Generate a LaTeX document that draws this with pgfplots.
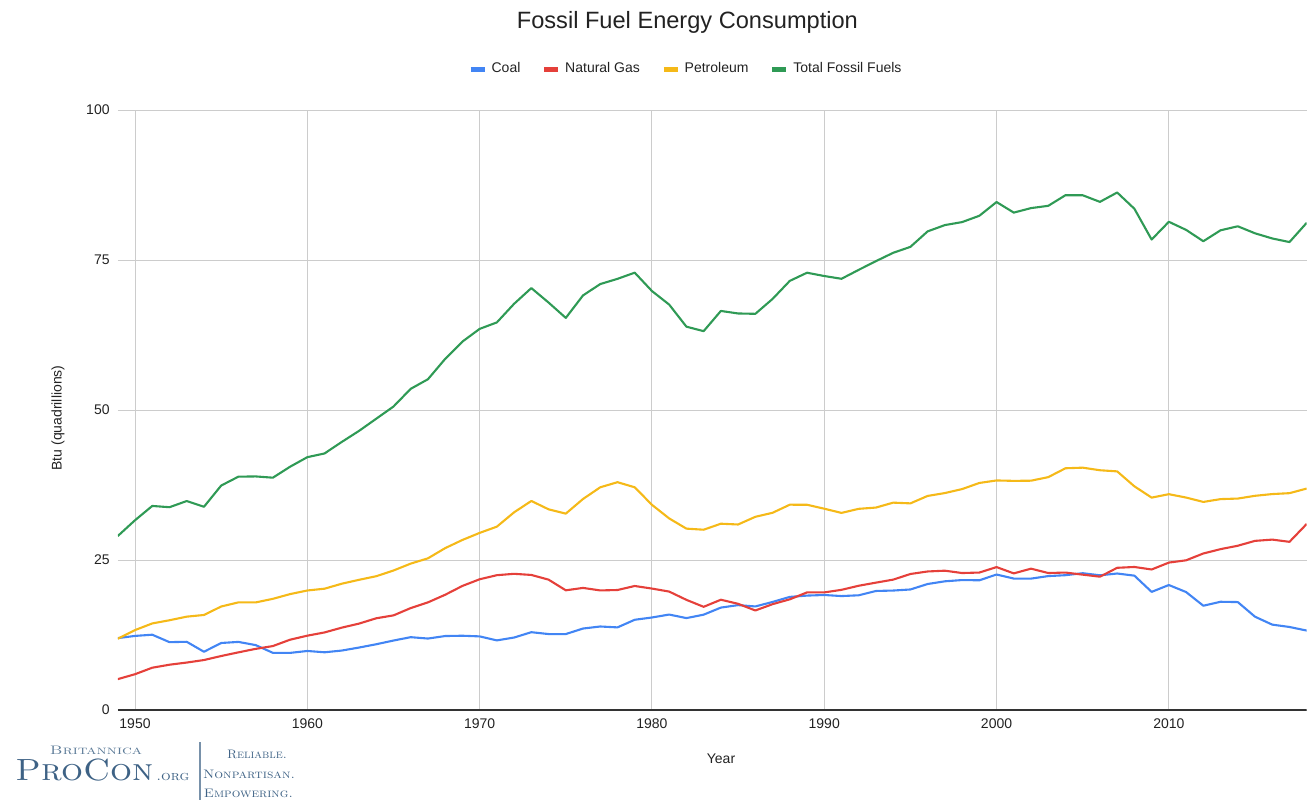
\documentclass[border=0pt]{standalone}
\usepackage{fontspec}
\usepackage{graphicx}
\usepackage{pgfplots}
\usepackage{pgfplotstable}
\pgfplotsset{compat=1.18}
\newfontfamily\arial{Liberation Sans}
\definecolor{cCoal}{HTML}{4285F4}
\definecolor{cGas}{HTML}{E5403A}
\definecolor{cPet}{HTML}{F5B918}
\definecolor{cTot}{HTML}{2F9A55}
\definecolor{logo}{HTML}{3E6285}
\definecolor{gridc}{HTML}{CCCCCC}
\definecolor{txt}{HTML}{222222}

\pgfplotstableread{
year coal gas pet tot
1949 11.98 5.15 11.88 29.00
1950 12.35 5.97 13.32 31.63
1951 12.55 7.05 14.43 34.01
1952 11.31 7.55 14.96 33.80
1953 11.37 7.91 15.56 34.83
1954 9.71 8.33 15.84 33.87
1955 11.17 9.00 17.25 37.41
1956 11.35 9.61 17.94 38.89
1957 10.82 10.19 17.93 38.93
1958 9.53 10.66 18.53 38.72
1959 9.52 11.72 19.32 40.55
1960 9.84 12.39 19.92 42.14
1961 9.62 12.93 20.22 42.76
1962 9.91 13.73 21.05 44.68
1963 10.41 14.40 21.70 46.52
1964 10.96 15.29 22.30 48.55
1965 11.58 15.77 23.25 50.58
1966 12.14 16.99 24.40 53.53
1967 11.91 17.94 25.28 55.13
1968 12.33 19.21 26.98 58.52
1969 12.38 20.68 28.34 61.40
1970 12.27 21.79 29.52 63.52
1971 11.60 22.47 30.56 64.60
1972 12.08 22.70 32.95 67.70
1973 12.97 22.51 34.84 70.32
1974 12.66 21.73 33.45 67.91
1975 12.66 19.95 32.73 65.35
1976 13.58 20.35 35.17 69.10
1977 13.92 19.93 37.12 70.99
1978 13.77 20.00 37.97 71.86
1979 15.04 20.67 37.12 72.89
1980 15.42 20.24 34.20 69.83
1981 15.91 19.74 31.93 67.57
1982 15.32 18.36 30.23 63.89
1983 15.89 17.20 30.05 63.14
1984 17.07 18.38 31.05 66.51
1985 17.48 17.70 30.92 66.09
1986 17.26 16.59 32.20 66.03
1987 18.01 17.64 32.87 68.51
1988 18.85 18.45 34.22 71.52
1989 19.07 19.60 34.21 72.88
1990 19.17 19.60 33.55 72.33
1991 18.99 20.03 32.85 71.87
1992 19.12 20.71 33.53 73.36
1993 19.84 21.23 33.74 74.81
1994 19.91 21.73 34.56 76.20
1995 20.09 22.67 34.44 77.19
1996 21.00 23.09 35.68 79.77
1997 21.45 23.22 36.16 80.82
1998 21.66 22.83 36.82 81.32
1999 21.62 22.91 37.84 82.37
2000 22.58 23.82 38.26 84.66
2001 21.91 22.77 38.19 82.90
2002 21.90 23.56 38.22 83.65
2003 22.32 22.83 38.81 84.03
2004 22.47 22.91 40.29 85.80
2005 22.80 22.56 40.39 85.79
2006 22.45 22.22 39.96 84.69
2007 22.75 23.70 39.77 86.25
2008 22.39 23.84 37.28 83.54
2009 19.69 23.42 35.40 78.41
2010 20.83 24.57 35.97 81.37
2011 19.66 24.95 35.41 80.02
2012 17.38 26.09 34.68 78.13
2013 18.04 26.81 35.15 79.95
2014 17.99 27.38 35.24 80.62
2015 15.55 28.19 35.70 79.45
2016 14.23 28.40 35.99 78.59
2017 13.84 28.03 36.14 77.99
2018 13.24 31.01 36.91 81.20
}\datatable

\begin{document}
\begin{tikzpicture}
\useasboundingbox (-58.9pt,-45pt) rectangle (595.6pt,355pt);
\begin{axis}[
  scale only axis,
  width=594.45pt, height=300pt,
  xmin=1949, xmax=2018,
  ymin=0, ymax=100,
  xtick={1950,1960,1970,1980,1990,2000,2010},
  ytick={0,25,50,75,100},
  /pgf/number format/1000 sep={},
  /pgf/number format/assume math mode=true,
  major tick length=0pt,
  axis line style={draw=none},
  xmajorgrids, ymajorgrids,
  major grid style={gridc, line width=0.5pt},
  tick label style={font=\arial\fontsize{7}{8}\selectfont, text=txt},
  xticklabel style={anchor=north, inner sep=0pt, yshift=-4pt},
  yticklabel style={anchor=east, inner sep=0pt, xshift=-3.9pt},
  legend style={
    at={(0.4788,1.068)}, anchor=center, draw=none, fill=none,
    font=\arial\fontsize{7}{8}\selectfont, text=txt,
    legend columns=-1,
    /tikz/every even column/.append style={column sep=8.5pt},
    nodes={inner xsep=2.2pt, inner ysep=1pt},
  },
  legend image code/.code={\draw[line width=2.5pt] (0pt,0pt) -- (7pt,0pt);},
  every axis plot/.append style={line width=1.05pt, line join=round},
]
\addplot[cCoal] table[x=year, y=coal] {\datatable};
\addlegendentry{Coal}
\addplot[cGas] table[x=year, y=gas] {\datatable};
\addlegendentry{Natural Gas}
\addplot[cPet] table[x=year, y=pet] {\datatable};
\addlegendentry{Petroleum}
\addplot[cTot] table[x=year, y=tot] {\datatable};
\addlegendentry{Total Fossil Fuels}
\draw[black!80, line width=0.75pt] (rel axis cs:0,0) -- (rel axis cs:1,0);
\end{axis}
% title and labels
\node[font=\arial\fontsize{11.8}{14}\selectfont, text=txt] at (284.8pt,344pt) {Fossil Fuel Energy Consumption};
\node[font=\arial\fontsize{7}{8}\selectfont, text=txt] at (301.6pt,-24.3pt) {Year};
\node[font=\arial\fontsize{7}{8}\selectfont, text=txt, rotate=90] at (-29.9pt,146pt) {Btu (quadrillions)};
% logo
\node[anchor=base, inner sep=0pt, text=logo!85] at (-10.9pt,-22.4pt) {\resizebox{46pt}{4.2pt}{\textsc{Britannica}}};
\node[anchor=base west, inner sep=0pt, text=logo] at (-51.4pt,-35pt) {\resizebox{69pt}{10.8pt}{\textsc{ProCon}}\hspace{1.5pt}\resizebox{16.5pt}{3.6pt}{\textsc{.org}}};
\draw[logo!70, line width=0.6pt] (41.1pt,-16pt) -- (41.1pt,-45pt);
\node[anchor=base, inner sep=0pt, text=logo] at (69.6pt,-24pt) {\resizebox{30pt}{4.2pt}{\textsc{Reliable.}}};
\node[anchor=base, inner sep=0pt, text=logo] at (65.6pt,-34pt) {\resizebox{46pt}{4.2pt}{\textsc{Nonpartisan.}}};
\node[anchor=base, inner sep=0pt, text=logo] at (65.3pt,-43.5pt) {\resizebox{44.5pt}{4.2pt}{\textsc{Empowering.}}};
\end{tikzpicture}
\end{document}
